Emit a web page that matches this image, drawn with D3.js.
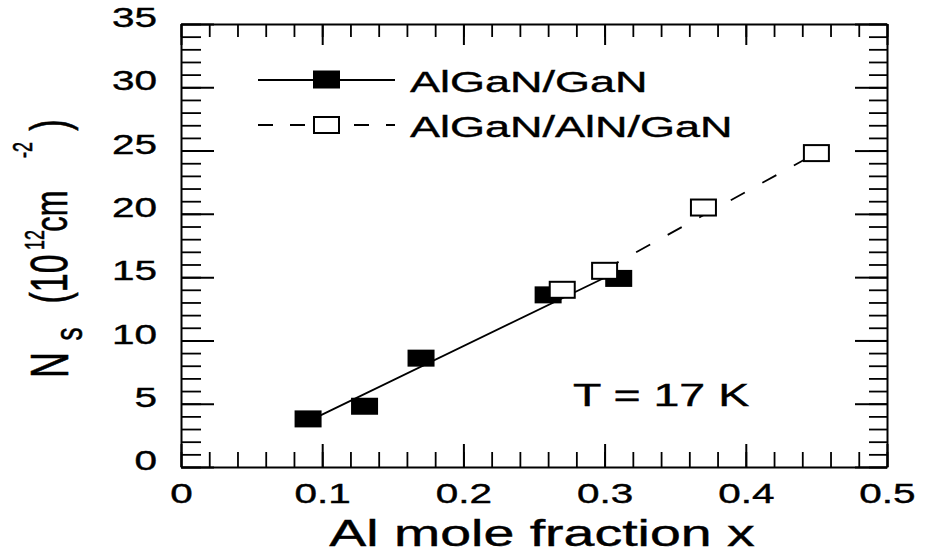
<!DOCTYPE html>
<html>
<head>
<meta charset="utf-8">
<script src="https://cdn.jsdelivr.net/npm/d3@7"></script>
<style>
  body { margin: 0; background: #fff; }
  svg { display: block; }
  text { font-family: "Liberation Sans", Arial, Helvetica, sans-serif; fill: #000; stroke: #000; stroke-width: 0.4; }
</style>
</head>
<body>
<div id="chart"></div>
<script>
// AlGaN/GaN samples (filled squares)
const gaNx = [0.09, 0.13, 0.17, 0.26, 0.31];
const gaNy = [3.8, 4.8, 8.6, 13.6, 14.9];

// AlGaN/AlN/GaN samples (open squares)
const alNx = [0.27, 0.30, 0.37, 0.45];
const alNy = [14.0, 15.5, 20.5, 24.8];

// guide lines through each series (end points)
const fitGaN = [[0.09, 3.6], [0.30, 14.95]];
const fitAlN = [[0.30, 15.6], [0.45, 24.8]];

const xTicks = [0, 0.1, 0.2, 0.3, 0.4, 0.5];
const xTickLabels = ["0", "0.1", "0.2", "0.3", "0.4", "0.5"];
const yTicks = [0, 5, 10, 15, 20, 25, 30, 35];
const yTickLabels = ["0", "5", "10", "15", "20", "25", "30", "35"];
const seriesNames = ["AlGaN/GaN", "AlGaN/AlN/GaN"];

// the original scan is stretched sideways, so text is too
const SX = 1.5;

const W = 925, H = 553;
const margin = { top: 24, right: 38, bottom: 86, left: 181 };
const w = W - margin.left - margin.right;
const h = H - margin.top - margin.bottom;

const svg = d3.select("#chart").append("svg")
    .attr("width", W)
    .attr("height", H);

const g = svg.append("g")
    .attr("transform", `translate(${margin.left},${margin.top})`);

const x = d3.scaleLinear().domain([0, 0.5]).range([0, w]);
const y = d3.scaleLinear().domain([0, 35]).range([h, 0]);

// axis helper: major ticks (maybe labelled) + minor ticks, all pointing inward
function frameAxis(axisFn, scale, pos, major, minor, labels, majorLen, minorLen, pad) {
    const a = g.append("g").attr("transform", pos)
        .call(axisFn(scale).tickValues(major)
            .tickFormat((d, i) => labels ? labels[i] : "")
            .tickSize(-majorLen).tickSizeOuter(0).tickPadding(pad || 0));
    a.select(".domain").attr("stroke-width", 2);
    a.selectAll(".tick line").attr("stroke-width", 2);

    g.append("g").attr("transform", pos)
        .call(axisFn(scale).tickValues(minor).tickFormat("").tickSize(-minorLen))
        .call(s => s.select(".domain").remove())
        .selectAll(".tick line").attr("stroke-width", 1.8);
    return a;
}

const xMinor = x.ticks(25);
const yMinor = y.ticks(35);

const bottom = frameAxis(d3.axisBottom, x, `translate(0,${h})`, xTicks, xMinor, xTickLabels, 23, 15, 17);
frameAxis(d3.axisTop, x, "translate(0,0)", xTicks, xMinor, null, 21, 13);
const left = frameAxis(d3.axisLeft, y, "translate(0,0)", yTicks, yMinor, yTickLabels, 33, 20, 16);
frameAxis(d3.axisRight, y, `translate(${w},0)`, yTicks, yMinor, null, 32, 18);

bottom.selectAll("text")
    .attr("font-size", 27)
    .attr("font-family", null)
    .attr("transform", `scale(${SX},1)`);

left.selectAll("text")
    .attr("font-size", 27)
    .attr("font-family", null)
    .attr("dy", "0.1em")
    .attr("transform", `scale(${SX},1)`);

// lines
const line = d3.line().x(d => x(d[0])).y(d => y(d[1]));

g.append("path")
    .datum(fitGaN)
    .attr("d", line)
    .attr("fill", "none")
    .attr("stroke", "#000")
    .attr("stroke-width", 1.8);

g.append("path")
    .datum(fitAlN)
    .attr("d", line)
    .attr("fill", "none")
    .attr("stroke", "#000")
    .attr("stroke-width", 1.8)
    .attr("stroke-dasharray", "16,20");

// markers
const SW = 27, SH = 17;

g.selectAll(".filled")
    .data(d3.zip(gaNx, gaNy))
    .join("rect")
    .attr("class", "filled")
    .attr("x", d => x(d[0]) - SW / 2)
    .attr("y", d => y(d[1]) - SH / 2)
    .attr("width", SW)
    .attr("height", SH)
    .attr("fill", "#000");

g.selectAll(".open")
    .data(d3.zip(alNx, alNy))
    .join("rect")
    .attr("class", "open")
    .attr("x", d => x(d[0]) - (SW - 2) / 2)
    .attr("y", d => y(d[1]) - (SH - 1) / 2)
    .attr("width", SW - 2)
    .attr("height", SH - 1)
    .attr("fill", "#fff")
    .attr("stroke", "#000")
    .attr("stroke-width", 2);

// legend
const legend = g.append("g").attr("transform", "translate(77,56)");
const rowGap = 45;

legend.append("line")
    .attr("x1", 0).attr("x2", 137).attr("y1", 0).attr("y2", 0)
    .attr("stroke", "#000").attr("stroke-width", 1.8);
legend.append("rect")
    .attr("x", 68.5 - SW / 2).attr("y", -SH / 2 - 1)
    .attr("width", SW).attr("height", SH + 1)
    .attr("fill", "#000");

legend.append("line")
    .attr("x1", 0).attr("x2", 137).attr("y1", rowGap).attr("y2", rowGap)
    .attr("stroke", "#000").attr("stroke-width", 1.8)
    .attr("stroke-dasharray", "15,17");
legend.append("rect")
    .attr("x", 68.5 - (SW - 2) / 2).attr("y", rowGap - (SH - 1) / 2)
    .attr("width", SW - 2).attr("height", SH - 1)
    .attr("fill", "#fff").attr("stroke", "#000").attr("stroke-width", 2);

legend.selectAll(".legend-label")
    .data(seriesNames)
    .join("text")
    .attr("class", "legend-label")
    .attr("transform", (d, i) => `translate(152,${12 + i * rowGap}) scale(${SX},1)`)
    .attr("font-size", 30)
    .text(d => d);

// temperature note
g.append("text")
    .attr("transform", `translate(392,382) scale(${SX},1)`)
    .attr("font-size", 31)
    .text("T = 17 K");

// x title
svg.append("text")
    .attr("transform", `translate(542,546) scale(${SX},1)`)
    .attr("text-anchor", "middle")
    .attr("font-size", 37)
    .text("Al mole fraction x");

// y title, built piece by piece (rotated)
const yTitle = [
    { t: "N", bx: 68, cy: 365, fs: 36 },
    { t: "s", bx: 82, cy: 334, fs: 26 },
    { t: "(10", bx: 67, cy: 279, fs: 34 },
    { t: "12", bx: 44, cy: 240, fs: 18 },
    { t: "cm", bx: 67, cy: 211, fs: 31 },
    { t: "-2", bx: 32, cy: 150, fs: 18 },
    { t: ")", bx: 67, cy: 125, fs: 34 }
];

svg.selectAll(".ytitle")
    .data(yTitle)
    .join("text")
    .attr("class", "ytitle")
    .attr("text-anchor", "middle")
    .attr("font-size", d => d.fs)
    .attr("transform", d => `translate(${d.bx},${d.cy}) scale(${SX},1) rotate(-90)`)
    .text(d => d.t);
</script>
</body>
</html>
